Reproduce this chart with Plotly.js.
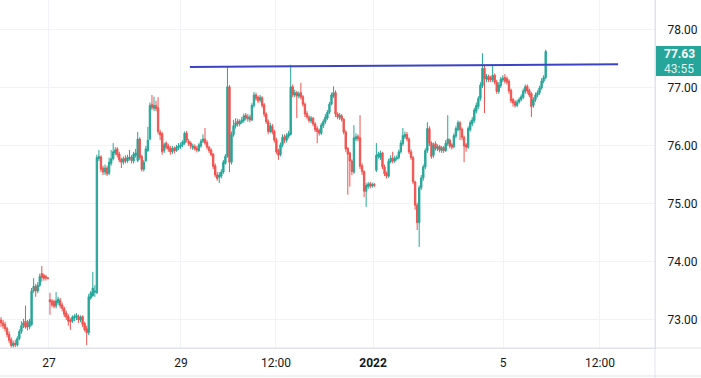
<!DOCTYPE html>
<html>
<head>
<meta charset="utf-8">
<script src="https://cdn.plot.ly/plotly-3.0.1.min.js"></script>
<style>html,body{margin:0;padding:0;background:#fff;}#chart{width:701px;height:378px;}</style>
</head>
<body>
<div id="chart"></div>
<script>
// candles, one per bar index
const open = [
73.00,72.95,72.92,72.85,72.75,72.66,72.56,72.60,72.57,72.68,
72.80,72.90,72.98,72.95,72.88,72.92,73.50,73.58,73.50,73.60,
73.80,73.77,73.75,73.72,73.35,73.33,73.32,73.24,73.30,73.34,
73.26,73.20,73.12,73.06,73.00,72.98,73.03,73.05,73.06,73.00,
73.06,72.94,72.85,72.78,73.38,73.42,73.48,73.47,75.78,75.81,
75.62,75.55,75.62,75.53,75.70,75.78,75.88,75.95,75.86,75.77,
75.72,75.79,75.74,75.78,75.81,75.74,75.84,75.75,76.12,75.82,
75.60,75.75,75.92,76.12,76.72,76.65,76.70,76.66,76.24,76.21,
75.92,76.05,76.00,75.96,75.90,75.96,75.92,75.97,75.99,76.02,
76.05,76.22,76.08,76.05,75.97,75.99,75.96,75.92,76.00,76.08,
76.12,76.06,75.98,75.93,75.86,75.66,75.50,75.46,75.48,75.55,
75.70,75.82,77.02,75.72,76.20,76.35,76.43,76.38,76.41,76.44,
76.53,76.47,76.50,76.45,76.70,76.88,76.84,76.79,76.83,76.71,
76.55,76.42,76.25,76.34,76.25,76.10,75.92,75.85,76.02,76.16,
76.10,76.17,76.20,77.02,76.88,76.92,76.86,76.92,76.85,76.72,
76.56,76.50,76.43,76.48,76.38,76.30,76.27,76.22,76.35,76.42,
76.48,76.58,76.72,76.86,76.92,76.55,76.49,76.52,76.46,76.24,
75.96,75.88,75.74,75.55,76.12,76.17,76.14,75.66,75.56,75.22,
75.30,75.35,75.31,75.34,75.58,75.82,75.80,75.88,75.64,75.53,
75.48,75.73,75.79,75.74,75.78,75.80,75.90,76.04,76.16,76.20,
76.12,75.90,75.80,75.38,74.98,74.68,75.28,75.45,75.64,75.92,
76.30,76.05,75.84,76.04,75.95,75.99,75.92,75.97,75.92,76.04,
76.10,76.02,75.99,76.17,76.28,76.40,76.29,76.15,76.02,75.98,
76.28,76.38,76.44,76.60,76.68,76.82,77.04,77.34,77.15,77.20,
77.18,77.14,77.22,77.10,76.94,77.04,77.14,77.18,77.16,77.12,
76.96,76.80,76.76,76.70,76.76,76.80,76.84,76.94,77.03,76.96,
76.90,76.70,76.80,76.88,76.92,77.00,77.12,77.18];
const high = [
73.05,73.00,72.97,72.88,72.80,72.70,72.64,72.66,72.72,72.84,
72.98,73.02,73.25,73.00,73.02,73.55,73.72,73.62,73.65,73.80,
73.93,73.80,73.78,73.74,73.47,73.36,73.35,73.48,73.40,73.38,
73.30,73.23,73.16,73.10,73.03,73.08,73.10,73.12,73.09,73.08,
73.08,72.97,72.90,73.45,73.50,73.83,73.60,75.85,75.93,75.84,
75.66,75.68,75.66,75.80,75.93,76.05,75.98,75.98,75.90,75.80,
75.82,75.84,75.85,75.93,75.84,75.90,75.95,76.24,76.15,75.85,
75.76,76.00,76.33,76.75,76.88,76.85,76.78,76.84,76.28,76.24,
76.06,76.08,76.04,76.00,76.00,75.99,76.02,76.05,76.06,76.10,
76.25,76.26,76.12,76.08,76.04,76.03,76.00,76.05,76.12,76.20,
76.31,76.10,76.00,75.96,75.88,75.70,75.55,75.55,75.60,75.76,
75.86,77.36,77.05,76.25,76.45,76.48,76.47,76.46,76.50,76.56,
76.57,76.55,76.54,76.74,76.93,76.92,76.87,76.88,76.86,76.74,
76.58,76.46,76.40,76.38,76.28,76.14,75.95,76.06,76.20,76.20,
76.22,76.26,77.40,77.06,76.97,76.95,76.94,77.09,76.88,76.75,
76.60,76.53,76.52,76.50,76.41,76.34,76.30,76.40,76.46,76.55,
76.62,76.76,76.92,77.03,76.96,76.58,76.57,76.55,76.48,76.27,
75.98,75.90,75.77,76.36,76.22,76.20,76.53,75.70,75.58,75.36,
75.38,75.38,75.37,75.36,76.05,75.90,75.92,75.90,75.68,75.56,
75.78,75.84,75.90,75.83,75.84,75.94,76.10,76.31,76.25,76.24,
76.15,75.94,75.83,75.40,75.02,75.32,75.50,75.68,75.96,76.41,
76.34,76.08,76.06,76.08,76.03,76.02,76.00,76.00,76.10,76.53,
76.13,76.05,76.22,76.34,76.44,76.43,76.32,76.18,76.05,76.34,
76.44,76.50,76.66,76.75,76.86,77.10,77.60,77.38,77.24,77.23,
77.21,77.40,77.25,77.14,77.10,77.19,77.22,77.24,77.20,77.15,
76.99,76.83,76.79,76.80,76.84,76.89,76.99,77.06,77.06,76.99,
76.93,76.84,76.92,76.96,77.04,77.17,77.22,77.66];
const low = [
72.88,72.85,72.80,72.70,72.60,72.52,72.52,72.53,72.54,72.65,
72.76,72.86,72.85,72.82,72.84,72.90,73.47,73.40,73.46,73.57,
73.66,73.68,73.68,73.70,73.09,73.22,73.20,73.20,73.26,73.20,
73.15,73.05,73.00,72.90,72.83,72.95,72.98,73.00,72.95,72.96,
72.88,72.80,72.57,72.74,73.35,73.40,73.40,73.45,75.74,75.55,
75.50,75.50,75.48,75.50,75.66,75.75,75.84,75.80,75.72,75.62,
75.68,75.70,75.71,75.75,75.70,75.70,75.80,75.72,75.76,75.56,
75.56,75.72,75.90,76.10,76.62,76.60,76.60,76.20,76.10,75.85,
75.88,75.94,75.90,75.85,75.86,75.87,75.90,75.93,75.95,75.98,
76.02,76.06,76.00,75.95,75.93,75.92,75.89,75.90,75.97,76.05,
76.02,75.94,75.88,75.82,75.60,75.46,75.40,75.36,75.44,75.52,
75.68,75.80,75.55,75.68,76.16,76.30,76.33,76.34,76.38,76.40,
76.44,76.42,76.41,76.43,76.66,76.78,76.74,76.75,76.66,76.50,
76.38,76.20,76.22,76.20,76.06,75.86,75.76,75.82,75.98,76.05,
76.06,76.13,76.18,76.84,76.84,76.48,76.82,76.80,76.68,76.50,
76.46,76.40,76.39,76.34,76.24,76.05,76.18,76.19,76.31,76.38,
76.45,76.55,76.70,76.83,76.50,76.46,76.45,76.42,76.20,75.90,
75.16,75.30,75.50,75.52,76.08,76.08,75.60,75.50,75.12,74.95,
75.26,75.27,75.28,75.29,75.55,75.78,75.76,75.60,75.48,75.44,
75.45,75.70,75.70,75.71,75.75,75.77,75.87,76.00,76.12,76.08,
75.86,75.76,75.34,74.90,74.55,74.26,75.24,75.40,75.60,75.88,
76.00,75.78,75.80,75.92,75.91,75.89,75.88,75.88,75.90,76.00,
75.96,75.94,75.96,76.13,76.25,76.10,76.10,75.72,75.90,75.95,
76.25,76.34,76.40,76.56,76.64,76.78,77.00,76.57,77.10,77.10,
77.10,77.10,77.06,76.90,76.90,77.00,77.10,77.08,77.06,76.90,
76.74,76.68,76.66,76.67,76.73,76.77,76.81,76.90,76.90,76.84,
76.50,76.66,76.76,76.84,76.88,76.97,77.08,77.15];
const close = [
72.95,72.90,72.85,72.75,72.65,72.56,72.60,72.57,72.68,72.80,
72.90,72.95,72.88,72.88,72.98,73.50,73.58,73.50,73.60,73.75,
73.73,73.72,73.72,73.72,73.31,73.26,73.24,73.33,73.36,73.25,
73.20,73.10,73.05,72.98,72.97,73.05,73.06,73.08,73.00,73.05,
72.92,72.83,72.78,73.40,73.47,73.55,73.50,75.80,75.82,75.60,
75.55,75.62,75.52,75.72,75.78,75.90,75.93,75.85,75.76,75.72,
75.78,75.74,75.80,75.81,75.75,75.86,75.88,76.12,75.80,75.60,
75.72,75.95,76.10,76.70,76.66,76.70,76.64,76.25,76.19,75.90,
76.02,75.98,75.95,75.90,75.96,75.92,75.98,76.00,76.02,76.07,
76.22,76.10,76.04,76.00,76.00,75.95,75.93,76.02,76.08,76.12,
76.05,75.98,75.92,75.85,75.65,75.50,75.44,75.50,75.55,75.72,
75.82,77.02,75.72,76.20,76.35,76.40,76.38,76.42,76.45,76.52,
76.48,76.50,76.45,76.70,76.88,76.82,76.78,76.84,76.70,76.55,
76.42,76.25,76.35,76.24,76.10,75.90,75.84,76.02,76.15,76.10,
76.18,76.22,77.02,76.88,76.92,76.86,76.90,76.84,76.72,76.55,
76.50,76.44,76.48,76.38,76.28,76.25,76.22,76.36,76.42,76.50,
76.58,76.72,76.88,76.92,76.55,76.50,76.53,76.46,76.24,75.95,
75.86,75.74,75.56,76.14,76.16,76.12,75.65,75.56,75.22,75.32,
75.34,75.31,75.34,75.32,75.84,75.86,75.88,75.64,75.52,75.48,
75.74,75.79,75.74,75.79,75.80,75.90,76.05,76.18,76.20,76.12,
75.90,75.80,75.38,74.98,74.68,75.28,75.45,75.64,75.92,76.30,
76.05,75.82,76.02,75.96,75.99,75.93,75.97,75.92,76.05,76.12,
76.00,75.98,76.18,76.30,76.40,76.28,76.15,76.00,75.98,76.30,
76.40,76.45,76.62,76.70,76.82,77.05,77.34,77.16,77.20,77.14,
77.14,77.22,77.10,76.94,77.05,77.15,77.17,77.12,77.10,76.95,
76.78,76.74,76.70,76.76,76.80,76.85,76.95,77.02,76.95,76.88,
76.68,76.80,76.88,76.92,77.00,77.12,77.18,77.63];

// time-axis labels and the bar positions they sit on
const tickLabels = ['27', '29', '12:00', '2022', '5', '12:00'];
const tickBars = [23.5, 88.2, 134.8, 182.4, 246.1, 293.6];

// price scale ticks
const priceTicks = [73, 74, 75, 76, 77, 78];

// horizontal trend line drawn on the chart (bar index, price)
const trendX = [92.6, 302.5];
const trendY = [77.362, 77.409];

// countdown shown under the last price
const countdown = '43:55';

const idx = close.map((_, i) => i);
const lastPrice = close[close.length - 1];

const UP = '#26a69a', DOWN = '#ef5350';

const traces = [
  {
    type: 'candlestick',
    x: idx, open: open, high: high, low: low, close: close,
    increasing: {line: {color: UP, width: 1}, fillcolor: UP},
    decreasing: {line: {color: DOWN, width: 1}, fillcolor: DOWN},
    whiskerwidth: 0,
    hoverinfo: 'skip'
  },
  {
    type: 'scatter', mode: 'lines',
    x: trendX, y: trendY,
    line: {color: '#3b44c6', width: 2},
    hoverinfo: 'skip'
  }
];

const plotW = 655, plotH = 348, fullW = 701;
const gridC = '#f0f3fa', lineC = '#e0e3eb';

const layout = {
  width: 701, height: 378,
  margin: {l: 0, r: 46, t: 0, b: 30, pad: 0},
  paper_bgcolor: '#ffffff', plot_bgcolor: '#ffffff',
  showlegend: false,
  boxgap: 0.05,
  font: {family: 'Roboto, "DejaVu Sans", sans-serif', size: 12, color: '#131722'},
  xaxis: {
    range: [-0.49, 320.59],
    tickmode: 'array', tickvals: tickBars,
    ticktext: tickLabels.map(t => t === '2022' ? '<b>' + t + '</b>' : t),
    showgrid: true, gridcolor: gridC, gridwidth: 1,
    zeroline: false, showline: true, linecolor: lineC, linewidth: 1,
    ticks: '', ticklabelstandoff: 4,
    rangeslider: {visible: false}, fixedrange: true
  },
  yaxis: {
    side: 'right',
    range: [72.517, 78.517],
    tickmode: 'array', tickvals: priceTicks,
    ticktext: priceTicks.map(v => v.toFixed(2)),
    showgrid: true, gridcolor: gridC, gridwidth: 1,
    zeroline: false, showline: true, linecolor: lineC, linewidth: 1,
    ticks: '', ticklabelstandoff: 9, fixedrange: true
  },
  shapes: [
    {type: 'line', xref: 'paper', yref: 'paper', x0: 1, x1: 1, y0: -30 / plotH, y1: 1,
     line: {color: lineC, width: 1}},
    {type: 'line', xref: 'paper', yref: 'paper', x0: 0, x1: fullW / plotW, y0: 0, y1: 0,
     line: {color: lineC, width: 1}},
    {type: 'line', xref: 'paper', yref: 'paper', x0: 0, x1: fullW / plotW, y0: -28 / plotH, y1: -28 / plotH,
     line: {color: lineC, width: 1}},
    {type: 'rect', xref: 'paper', yref: 'paper', x0: 1.0015, x1: fullW / plotW,
     y0: 1 - 76 / plotH, y1: 1 - 46 / plotH, fillcolor: UP, line: {width: 0}, layer: 'above'}
  ],
  annotations: [
    {xref: 'paper', yref: 'paper', x: 679 / plotW, y: 1 - 53.5 / plotH, xanchor: 'center', yanchor: 'middle',
     text: '<b>' + lastPrice.toFixed(2) + '</b>', showarrow: false,
     font: {color: '#ffffff', size: 12, family: 'Roboto, sans-serif'}},
    {xref: 'paper', yref: 'paper', x: 679 / plotW, y: 1 - 68.5 / plotH, xanchor: 'center', yanchor: 'middle',
     text: countdown, showarrow: false,
     font: {color: 'rgba(255,255,255,0.88)', size: 12, family: 'Roboto, sans-serif'}}
  ]
};

Plotly.newPlot('chart', traces, layout, {displayModeBar: false, staticPlot: true});
</script>
</body>
</html>
